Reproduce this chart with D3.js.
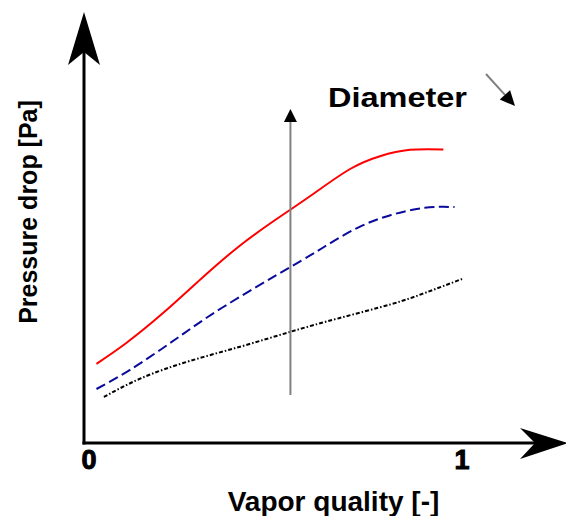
<!DOCTYPE html>
<html>
<head>
<meta charset="utf-8">
<script src="https://cdn.jsdelivr.net/npm/d3@7"></script>
<style>
  html, body { margin: 0; padding: 0; background: #fff; }
  svg { display: block; }
  text { font-family: "Liberation Sans", Arial, sans-serif; font-weight: bold; fill: #000; }
</style>
</head>
<body>
<svg id="chart" width="566" height="516"></svg>
<script>
// Pressure drop vs vapor quality for three tube diameters (largest drop = smallest diameter)
const xTicks = [0, 1];
const xTickLabels = ["0", "1"];

const smallQuality = [0.02, 0.10, 0.20, 0.30, 0.40, 0.50, 0.60, 0.70, 0.78, 0.86, 0.95];
const smallDrop    = [1.98, 2.50, 3.26, 4.10, 4.90, 5.58, 6.22, 6.85, 7.17, 7.33, 7.34];

const mediumQuality = [0.02, 0.11, 0.23, 0.36, 0.54, 0.63, 0.72, 0.81, 0.90, 0.98];
const mediumDrop    = [1.35, 1.83, 2.58, 3.40, 4.40, 4.90, 5.38, 5.70, 5.88, 5.90];

const largeQuality = [0.04, 0.14, 0.27, 0.41, 0.54, 0.67, 0.81, 0.90, 1.00];
const largeDrop    = [1.15, 1.62, 2.05, 2.42, 2.78, 3.12, 3.47, 3.75, 4.10];

// trend arrow across the curves
const trendQuality = 0.54;
const trendFrom = 1.2, trendTo = 8.35;

const svg = d3.select("#chart");

const x = d3.scaleLinear().domain([0, 1]).range([89, 462]);
const y = d3.scaleLinear().domain([0, 10]).range([443, 43]);

const axisX = 84, axisY = 443;

// axis lines with arrowheads
svg.append("line")
  .attr("x1", axisX).attr("y1", axisY + 1.5)
  .attr("x2", axisX).attr("y2", 52)
  .attr("stroke", "#000").attr("stroke-width", 3);
svg.append("path")
  .attr("d", `M${axisX},12 L${axisX - 16},65 L${axisX},52 L${axisX + 16},65 Z`)
  .attr("fill", "#000");

svg.append("line")
  .attr("x1", axisX - 1.5).attr("y1", axisY)
  .attr("x2", 535).attr("y2", axisY)
  .attr("stroke", "#000").attr("stroke-width", 3);
svg.append("path")
  .attr("d", `M568,${axisY} L520,${axisY - 15} L535,${axisY} L520,${axisY + 16} Z`)
  .attr("fill", "#000");

// tick labels at the ends of the quality range
svg.append("g")
  .selectAll("text")
  .data(xTicks)
  .join("text")
  .attr("x", d => x(d))
  .attr("y", axisY + 26)
  .attr("text-anchor", "middle")
  .attr("stroke", "#000")
  .attr("stroke-width", 1)
  .style("font-size", "27px")
  .text((d, i) => xTickLabels[i]);

// curves
const line = d3.line()
  .x(d => x(d[0]))
  .y(d => y(d[1]))
  .curve(d3.curveNatural);

const series = [
  { q: smallQuality, p: smallDrop, color: "#ff0000", dash: null },
  { q: mediumQuality, p: mediumDrop, color: "#0a0a9c", dash: "10,4.5" },
  { q: largeQuality, p: largeDrop, color: "#000000", dash: "4,2,1.5,2" }
];

series.forEach(s => {
  const pts = s.q.map((v, i) => [v, s.p[i]]);
  svg.append("path")
    .datum(pts)
    .attr("d", line)
    .attr("fill", "none")
    .attr("stroke", s.color)
    .attr("stroke-width", 2)
    .attr("stroke-dasharray", s.dash);
});

// vertical trend arrow
const tx = x(trendQuality);
svg.append("line")
  .attr("x1", tx).attr("y1", y(trendFrom))
  .attr("x2", tx).attr("y2", y(trendTo) + 12)
  .attr("stroke", "#808080").attr("stroke-width", 2);
svg.append("path")
  .attr("d", `M${tx},${y(trendTo)} L${tx - 6.5},${y(trendTo) + 13} L${tx + 6.5},${y(trendTo) + 13} Z`)
  .attr("fill", "#000");

// "Diameter" label with decreasing-direction arrow
svg.append("text")
  .attr("x", 328).attr("y", 106.5)
  .attr("textLength", 139)
  .attr("lengthAdjust", "spacingAndGlyphs")
  .style("font-size", "28px")
  .text("Diameter");

const a0 = [486, 74], a1 = [515, 106];
const ang = Math.atan2(a1[1] - a0[1], a1[0] - a0[0]);
const headLen = 15, headHalf = 7;
const bx = a1[0] - headLen * Math.cos(ang), by = a1[1] - headLen * Math.sin(ang);
svg.append("line")
  .attr("x1", a0[0]).attr("y1", a0[1])
  .attr("x2", bx).attr("y2", by)
  .attr("stroke", "#808080").attr("stroke-width", 2);
svg.append("path")
  .attr("d", `M${a1[0]},${a1[1]} L${bx + headHalf * Math.sin(ang)},${by - headHalf * Math.cos(ang)} L${bx - headHalf * Math.sin(ang)},${by + headHalf * Math.cos(ang)} Z`)
  .attr("fill", "#000");

// axis titles
svg.append("text")
  .attr("x", 333.5).attr("y", 511)
  .attr("text-anchor", "middle")
  .style("font-size", "28px")
  .text("Vapor quality [-]");

svg.append("text")
  .attr("transform", "translate(37,212) rotate(-90)")
  .attr("text-anchor", "middle")
  .style("font-size", "25px")
  .text("Pressure drop [Pa]");
</script>
</body>
</html>
